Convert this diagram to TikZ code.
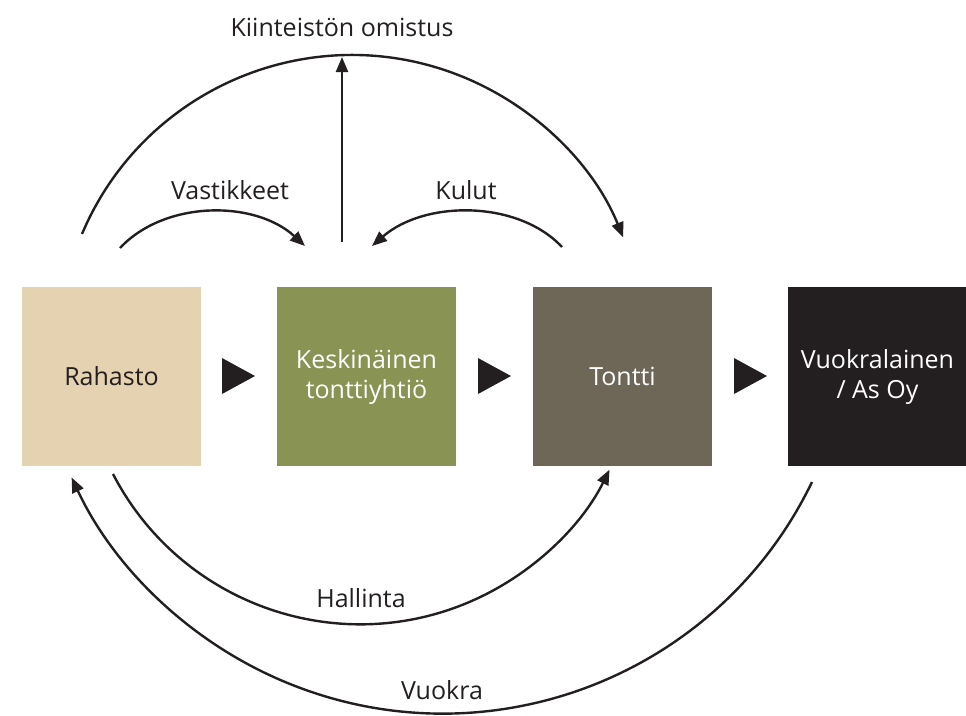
\documentclass[tikz,border=0pt]{standalone}
\usepackage{fontspec}
\setmainfont{Open Sans}
\usetikzlibrary{arrows.meta}
\definecolor{cRah}{HTML}{E5D2B1}
\definecolor{cKes}{HTML}{899354}
\definecolor{cTon}{HTML}{6E6758}
\definecolor{cVuo}{HTML}{231F20}
\definecolor{cInk}{HTML}{231F20}
\tikzset{
  box/.style={minimum width=179pt,minimum height=179pt,inner sep=0pt,align=center,font=\fontsize{25}{30}\selectfont},
  lbl/.style={font=\fontsize{25}{30}\selectfont,text=cInk,inner sep=0pt},
  conn/.style={line width=2.4pt,draw=cInk},
  arr/.style={conn,-{Triangle[length=15pt,width=12pt]}},
  tri/.style={fill=cInk,draw=none}
}
\begin{document}
\begin{tikzpicture}[x=1pt,y=1pt]
\useasboundingbox (0,0) rectangle (966,-715);
% boxes
\node[box,fill=cRah,text=cInk] (rah) at (111.5,-376.5) {Rahasto};
\node[box,fill=cKes,text=white] (kes) at (366.5,-376.5) {Keskinäinen\\tonttiyhtiö};
\node[box,fill=cTon,text=white] (ton) at (622.5,-376.5) {Tontti};
\node[box,fill=cVuo,text=white] (vuo) at (877.5,-376.5) {Vuokralainen\\/ As Oy};
% triangles between boxes
\fill[tri] (222,-358) -- (255,-376) -- (222,-394) -- cycle;
\fill[tri] (478,-358) -- (511,-376) -- (478,-394) -- cycle;
\fill[tri] (734,-358) -- (767,-376) -- (734,-394) -- cycle;
% labels
\node[lbl] (lk) at (342,-27) {Kiinteistön omistus};
\node[lbl] (lv) at (230,-190) {Vastikkeet};
\node[lbl] (lku) at (466,-190) {Kulut};
\node[lbl] (lh) at (361,-598) {Hallinta};
\node[lbl] (lvu) at (442,-690) {Vuokra};
% connector end points
\coordinate (omA) at (82,-234);
\coordinate (vaA) at (120,-248);
\coordinate (vaB) at (305,-246);
\coordinate (kuA) at (562,-247);
\coordinate (kuB) at (372,-246);
\coordinate (upA) at (342,-242);
\coordinate (upB) at (342,-57);
\coordinate (haA) at (113,-474);
\coordinate (vuA) at (812,-482);
% big top arc
\draw[arr] (omA) arc[start angle=157.1,end angle=22.2,radius=293pt];
% Vastikkeet
\draw[arr] (vaA) .. controls (165,-200) and (255,-200) .. (vaB);
% Kulut
\draw[arr] (kuA) .. controls (518,-200) and (425,-200) .. (kuB);
% ownership up arrow
\draw[arr] (upA) -- (upB);
% Hallinta
\draw[arr] (haA) arc[start angle=207.4,end angle=333.6,radius=278.4pt];
% Vuokra
\draw[arr] (vuA) arc[start angle=-25.8,end angle=-154.9,radius=410pt];
\end{tikzpicture}
\end{document}
